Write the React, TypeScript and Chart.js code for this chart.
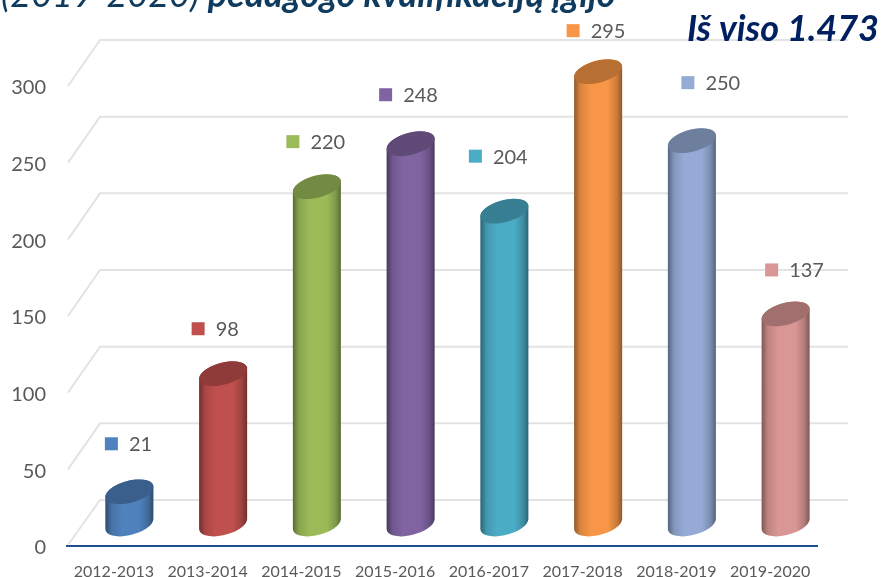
import React, { useEffect, useRef } from "react";
import Chart from "chart.js/auto";

const categories = ["2012-2013", "2013-2014", "2014-2015", "2015-2016", "2016-2017", "2017-2018", "2018-2019", "2019-2020"];
const admissions = [21, 98, 220, 248, 204, 295, 250, 137];
const yTickValues = [0, 50, 100, 150, 200, 250, 300];
const barColors = ["#4F81BD", "#C0504D", "#9BBB59", "#8064A2", "#4BACC6", "#F79646", "#95ABD6", "#D99694"];
const titleLight = "(2019-2020) ";
const titleBold = "pedagogo kvalifikacijų įgijo";
const totalText = "Iš viso 1.473";

// layout of the pseudo-3D look (not data)
const DEPTH_X = 33;
const DEPTH_Y = 46;
const WALL_RIGHT = 848;
const BAR_SHIFT_X = 15.5;
const CAP_RY = 11;
const CAP_ROT = (-15 * Math.PI) / 180;
const labelDx = [-18, -25, -24, -25, -29, -25, -4, -14];
const labelDy = [-48, -45, -45, -49, -55, -41, -58, -44];

function shade(hex: string, f: number) {
  const n = parseInt(hex.slice(1), 16);
  const c = [(n >> 16) & 255, (n >> 8) & 255, n & 255].map((v) =>
    Math.min(255, Math.round(f <= 1 ? v * f : v + (255 - v) * (f - 1)))
  );
  return `rgb(${c[0]},${c[1]},${c[2]})`;
}

const pseudo3d = {
  id: "pseudo3d",
  beforeDatasetsDraw(chart: any) {
    const { ctx, scales } = chart;
    const y = scales.y;
    const left = scales.x.left;
    ctx.save();
    ctx.strokeStyle = "#E3E3E3";
    ctx.lineWidth = 2;
    yTickValues.forEach((v) => {
      const py = y.getPixelForValue(v);
      ctx.beginPath();
      ctx.moveTo(left + 1, py - (v === 0 ? 1 : 0));
      ctx.lineTo(left + DEPTH_X, py - DEPTH_Y);
      ctx.lineTo(WALL_RIGHT, py - DEPTH_Y);
      ctx.stroke();
    });
    ctx.restore();
  },
  beforeDatasetDraw(chart: any, args: any) {
    const { ctx } = chart;
    const meta = chart.getDatasetMeta(args.index);
    meta.data.forEach((bar: any, i: number) => {
      const cx = bar.x + BAR_SHIFT_X;
      const rx = bar.width / 2 + 0.5;
      const top = bar.y;
      const bottom = bar.base;
      const color = barColors[i];
      const t0 = Math.atan((CAP_RY / rx) * Math.tan(-CAP_ROT));
      const g = ctx.createLinearGradient(cx - rx, 0, cx + rx, 0);
      g.addColorStop(0, shade(color, 0.55));
      g.addColorStop(0.14, shade(color, 0.88));
      g.addColorStop(0.35, color);
      g.addColorStop(0.7, color);
      g.addColorStop(0.88, shade(color, 0.82));
      g.addColorStop(1, shade(color, 0.55));
      ctx.save();
      ctx.filter = "blur(0.6px)";
      ctx.beginPath();
      ctx.ellipse(cx, bottom, rx, CAP_RY, CAP_ROT, t0, t0 + Math.PI);
      ctx.ellipse(cx, top, rx, CAP_RY, CAP_ROT, t0 + Math.PI, t0 + 2 * Math.PI);
      ctx.closePath();
      ctx.fillStyle = g;
      ctx.fill();
      ctx.beginPath();
      ctx.ellipse(cx, top, rx, CAP_RY, CAP_ROT, 0, 2 * Math.PI);
      ctx.fillStyle = shade(color, 0.74);
      ctx.fill();
      ctx.restore();
    });
    return false;
  },
  afterDatasetsDraw(chart: any) {
    const { ctx } = chart;
    const meta = chart.getDatasetMeta(0);
    ctx.save();
    meta.data.forEach((bar: any, i: number) => {
      const sx = bar.x + BAR_SHIFT_X + labelDx[i];
      const sy = bar.y + labelDy[i];
      ctx.fillStyle = barColors[i];
      ctx.fillRect(sx - 6.5, sy - 6.5, 13, 13);
      ctx.fillStyle = "#595959";
      ctx.font = "20px Lato";
      ctx.textAlign = "left";
      ctx.textBaseline = "middle";
      ctx.fillText(String(admissions[i]), sx + 17.5, sy + 1);
    });
    ctx.fillStyle = "#002060";
    ctx.font = "italic bold 36px Lato";
    ctx.textAlign = "right";
    ctx.textBaseline = "alphabetic";
    ctx.fillText(totalText, 879, 41);
    ctx.fillStyle = "#0F3B5F";
    ctx.textAlign = "left";
    ctx.font = "italic 36px Lato";
    ctx.fillText(titleLight, 1, 7);
    const w = ctx.measureText(titleLight).width;
    ctx.font = "italic bold 36px Lato";
    ctx.fillText(titleBold, 1 + w, 7);
    ctx.restore();
  },
};

export default function App() {
  const ref = useRef<HTMLCanvasElement>(null);
  useEffect(() => {
    const chart = new Chart(ref.current as HTMLCanvasElement, {
      type: "bar",
      data: {
        labels: categories,
        datasets: [
          {
            data: admissions,
            backgroundColor: barColors,
            yAxisID: "y1",
            barPercentage: 0.516,
            categoryPercentage: 1,
            clip: false,
          } as any,
        ],
      },
      options: {
        responsive: false,
        animation: false,
        layout: { padding: { top: 40, right: 66, left: 0, bottom: 0 } },
        plugins: { legend: { display: false }, tooltip: { enabled: false } },
        scales: {
          x: {
            grid: { display: false },
            border: { color: "#1F4E8C", width: 2 },
            ticks: {
              color: "#595959",
              font: { family: "Lato", size: 16 },
              maxRotation: 0,
              autoSkip: false,
              padding: 8,
            },
            afterFit: (s: any) => {
              s.height = 31;
            },
          },
          y: {
            min: 0,
            max: 330,
            grid: { display: false },
            border: { display: false },
            afterBuildTicks: (s: any) => {
              s.ticks = yTickValues.map((value) => ({ value }));
            },
            ticks: {
              color: "#595959",
              font: { family: "Lato", size: 20 },
              padding: 13,
              labelOffset: 2,
            },
            afterFit: (s: any) => {
              s.width = 67;
            },
          },
          y1: { display: false, min: -14.35, max: 315.65 },
        },
      },
      plugins: [pseudo3d],
    } as any);
    return () => chart.destroy();
  }, []);
  return (
    <div style={{ position: "fixed", left: 0, top: 0, width: 883, height: 577, background: "#fff" }}>
      <canvas ref={ref} width={883} height={577} style={{ display: "block" }} />
    </div>
  );
}
